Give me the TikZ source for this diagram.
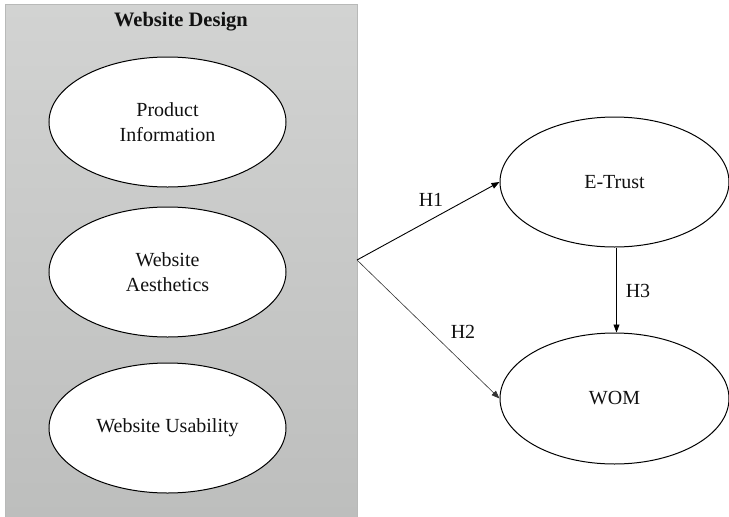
\documentclass[tikz,border=0pt]{standalone}
\usepackage{fontspec}
\setmainfont{Liberation Serif}
\usetikzlibrary{arrows.meta,shapes.geometric}
\definecolor{boxtop}{HTML}{D2D3D2}
\definecolor{boxbot}{HTML}{BDBEBD}
\definecolor{boxline}{HTML}{B8B9B8}
\definecolor{txt}{HTML}{111111}
\tikzset{
  construct/.style={ellipse, draw=black, line width=1pt, fill=white, inner sep=0pt,
    align=center, text=txt, font=\fontsize{20}{25}\selectfont},
  hyp/.style={-{Triangle[length=8pt,width=6pt]}, line width=0.9pt},
  hlabel/.style={font=\fontsize{20}{25}\selectfont, text=txt, inner sep=0pt}
}
\begin{document}
\begin{tikzpicture}[x=1pt,y=-1pt]
\useasboundingbox (0,0) rectangle (729,517);
\shade[top color=boxtop, bottom color=boxbot, draw=boxline, line width=0.6pt] (5,4) rectangle (357,519);
\node[font=\bfseries\fontsize{20.5}{24}\selectfont, text=txt] (title) at (181,22) {Website Design};
\node[construct, minimum width=237pt, minimum height=130pt] (pi) at (167.5,122) {Product\\Information};
\node[construct, minimum width=237pt, minimum height=130pt] (wa) at (167.5,272) {Website\\Aesthetics};
\node[construct, minimum width=237pt, minimum height=130pt] (wu) at (167.5,428) {Website Usability};
\node[construct, minimum width=229pt, minimum height=130pt] (et) at (614.5,182) {E-Trust};
\node[construct, minimum width=229pt, minimum height=131pt] (wom) at (614.5,398.5) {WOM};
\coordinate (src) at (357,260);
\draw[hyp] (src) -- (et.west);
\draw[hyp, line width=0.6pt, draw=black!80] (src) -- (wom.west);
\draw[hyp] ([xshift=2pt]et.south) -- ([xshift=2pt]wom.north);
\node[hlabel] (h1) at (431,200) {H1};
\node[hlabel] (h2) at (463,332) {H2};
\node[hlabel] (h3) at (638,291) {H3};
\end{tikzpicture}
\end{document}
